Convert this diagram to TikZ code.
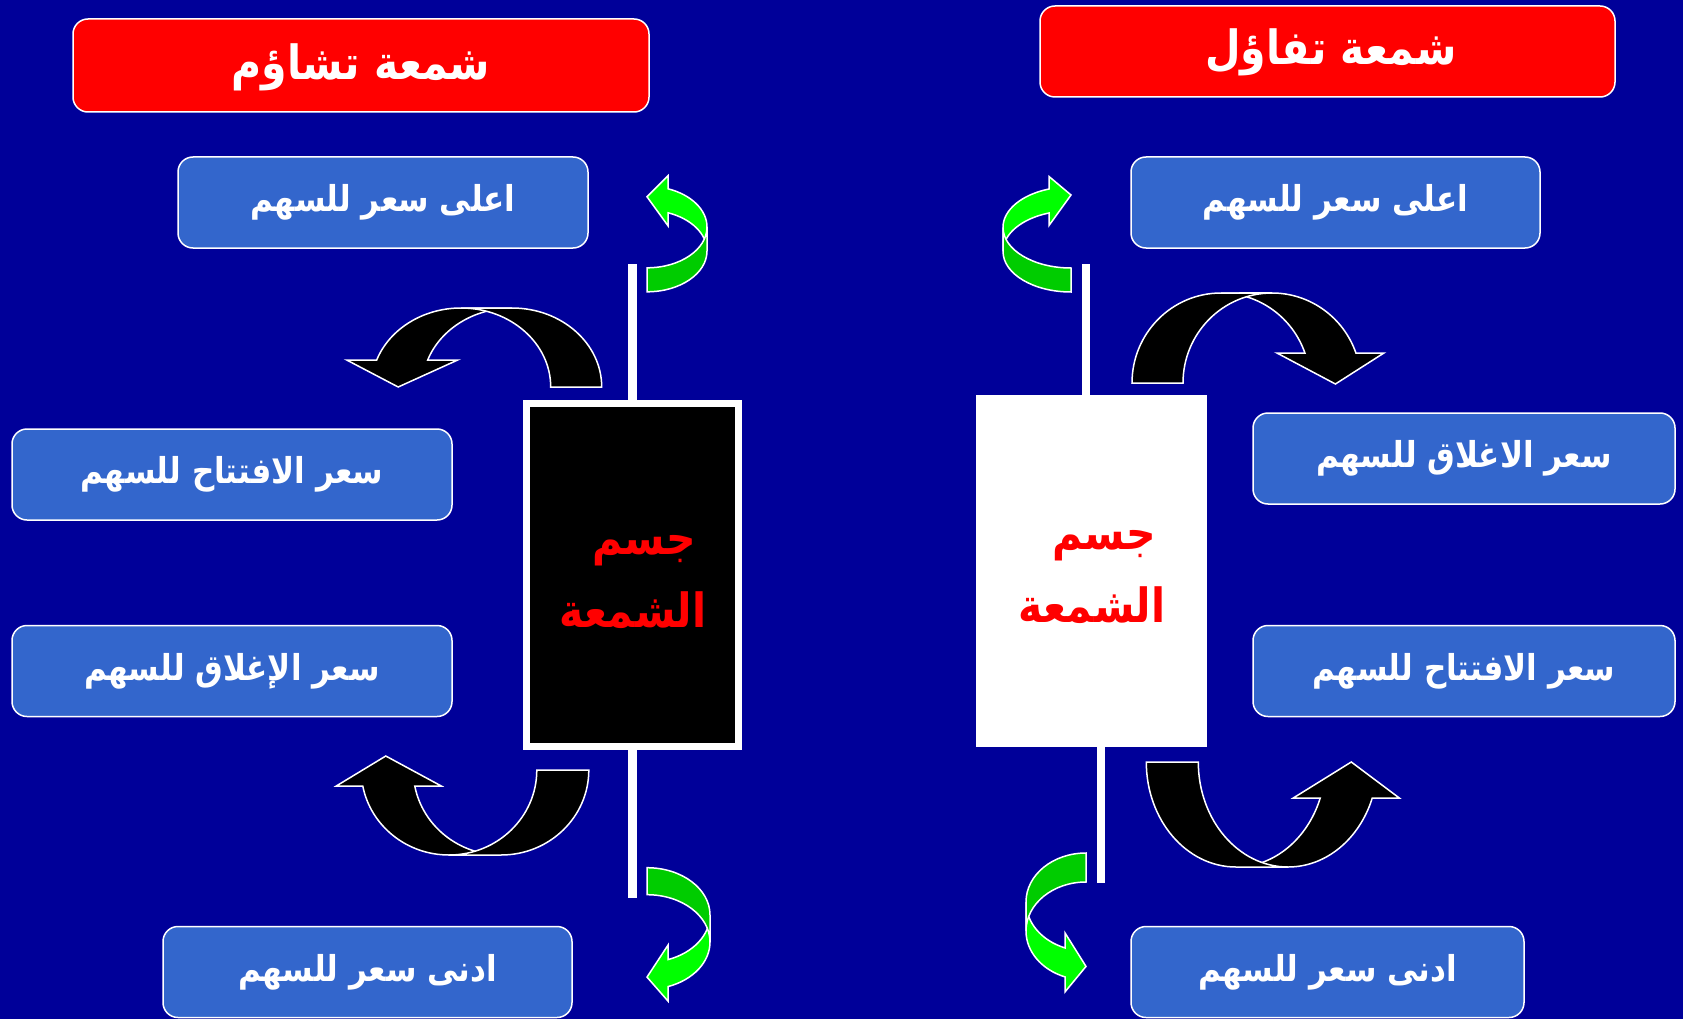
\documentclass[tikz,border=0pt]{standalone}
\usepackage{graphicx}
\usepackage{fontspec}
\newfontfamily\arabicfont[Script=Arabic]{DejaVu Sans}
\TeXXeTstate=1
\definecolor{bgblue}{RGB}{0,0,153}
\definecolor{boxblue}{RGB}{51,102,204}
\definecolor{brightgreen}{RGB}{0,255,0}
\definecolor{darkgreen}{RGB}{0,204,0}
\newcommand\artext[1]{\scalebox{1}[1.15]{\beginR #1\endR}}
\newcommand\curvedarrow[8]{%
\begin{scope}[#1]
\pgfmathsetmacro\ca{180+asin(-(#5)/(#3))}
\pgfmathsetmacro\cxi{(#2)*cos(\ca)}
\pgfmathsetmacro\cxo{\cxi-(#4)}
\pgfmathsetmacro\ctx{(\cxi+\cxo)/2+(#7)}
\filldraw[cahead] (\cxo,#5) arc[start angle=\ca, end angle=270, x radius=#2, y radius=#3]
  -- (0,-#3) arc[start angle=270, end angle=\ca, x radius=#2, y radius=#3]
  -- ({\cxi+#6},#5) -- (\ctx,#8) -- ({\cxo-#6},#5) -- cycle;
\filldraw[catail] (0,-#3) arc[start angle=270, end angle=360, x radius=#2, y radius=#3]
  -- ({#2-#4},0) arc[start angle=0, end angle=-90, x radius=#2, y radius=#3] -- cycle;
\end{scope}}
\begin{document}
\begin{tikzpicture}[x=1pt,y=-1pt,
  outline/.style={draw=white, line width=1.5pt, line join=miter},
  blackarrow/.style={cahead/.style={outline, fill=black}, catail/.style={outline, fill=black}},
  greenarrow/.style={cahead/.style={outline, fill=brightgreen}, catail/.style={outline, fill=darkgreen}},
  titlebox/.style={draw=white, line width=1.5pt, fill=red, rounded corners=15pt, inner sep=0pt},
  titletext/.style={inner sep=0pt, text=white, font=\arabicfont\bfseries\fontsize{41}{48}\selectfont},
  pricebox/.style={draw=white, line width=1.5pt, fill=boxblue, rounded corners=15pt, inner sep=0pt,
    minimum height=91pt, text=white, font=\arabicfont\bfseries\fontsize{31}{38}\selectfont},
  bodytext/.style={inner sep=0pt, text=red, font=\arabicfont\bfseries\fontsize{41}{48}\selectfont},
  wick/.style={fill=white}]
\fill[bgblue] (0,0) rectangle (1683,1019);
\useasboundingbox (0,0) rectangle (1683,1019);

% titles
\node[titlebox, minimum width=576pt, minimum height=93pt] (ltitle) at (361,65.5) {};
\node[titletext] (ltitletext) at (361,67) {\artext{شمعة تشاؤم}};
\node[titlebox, minimum width=575pt, minimum height=91pt] (rtitle) at (1327.5,51.5) {};
\node[titletext] (rtitletext) at (1331,52.5) {\artext{شمعة تفاؤل}};

% price boxes left
\node[pricebox, minimum width=410pt] (lhigh) at (383,202.5) {\artext{اعلى سعر للسهم}};
\node[pricebox, minimum width=440pt] (lopen) at (232,474.5) {\artext{سعر الافتتاح للسهم}};
\node[pricebox, minimum width=440pt] (lclose) at (232,671) {\artext{سعر الإغلاق للسهم}};
\node[pricebox, minimum width=409pt] (llow) at (367.5,972) {\artext{ادنى سعر للسهم}};
% price boxes right
\node[pricebox, minimum width=409pt] (rhigh) at (1335.5,202.5) {\artext{اعلى سعر للسهم}};
\node[pricebox, minimum width=422pt] (rclose) at (1464,458.5) {\artext{سعر الاغلاق للسهم}};
\node[pricebox, minimum width=422pt] (ropen) at (1464,671) {\artext{سعر الافتتاح للسهم}};
\node[pricebox, minimum width=393pt] (rlow) at (1327.5,972) {\artext{ادنى سعر للسهم}};

% wicks
\fill[wick] (628,264) rectangle (637,400);
\fill[wick] (628,750) rectangle (637,898);
\fill[wick] (1082,264) rectangle (1090,395);
\fill[wick] (1097,746) rectangle (1105,883);

% candle bodies
\node[draw=white, line width=7pt, fill=black, minimum width=212pt, minimum height=343pt, inner sep=0pt] (lbody) at (632.5,575) {};
\node[bodytext] (ltext1) at (644,551) {\artext{جسم}};
\node[bodytext] (ltext2) at (633,610) {\artext{الشمعة}};
\node[draw=white, line width=1pt, fill=white, minimum width=230pt, minimum height=351pt, inner sep=0pt] (rbody) at (1091,570.5) {};
\node[bodytext] (rtext1) at (1104,546) {\artext{جسم}};
\node[bodytext] (rtext2) at (1092,605) {\artext{الشمعة}};

% black curved arrows
\curvedarrow{shift={(512,387)}, blackarrow}{89.7}{79}{51}{-27}{30}{-4}{0}
\curvedarrow{shift={(501,770)}, yscale=-1, blackarrow}{87.8}{85}{52}{-16}{26.5}{-3}{14}
\curvedarrow{shift={(1221,383)}, xscale=-1, blackarrow}{89}{90}{51}{-30}{28}{-5}{1}
\curvedarrow{shift={(1236,762)}, xscale=-1, yscale=-1, blackarrow}{89.7}{105}{52}{-36}{27}{-5}{0}
% green curved arrows
\curvedarrow{shift={(647,251)}, rotate=-90, greenarrow}{40.8}{60}{24}{-21}{13}{-4}{0}
\curvedarrow{shift={(647,915)}, yscale=-1, rotate=-90, greenarrow}{47.3}{63}{27}{-21}{14.5}{-4}{0}
\curvedarrow{shift={(1071,251.4)}, xscale=-1, rotate=-90, greenarrow}{40.6}{68}{24}{-22}{12.5}{-6}{0}
\curvedarrow{shift={(1086,902)}, rotate=90, greenarrow}{49}{60}{29}{-21}{15}{-4}{0}
\end{tikzpicture}
\end{document}
